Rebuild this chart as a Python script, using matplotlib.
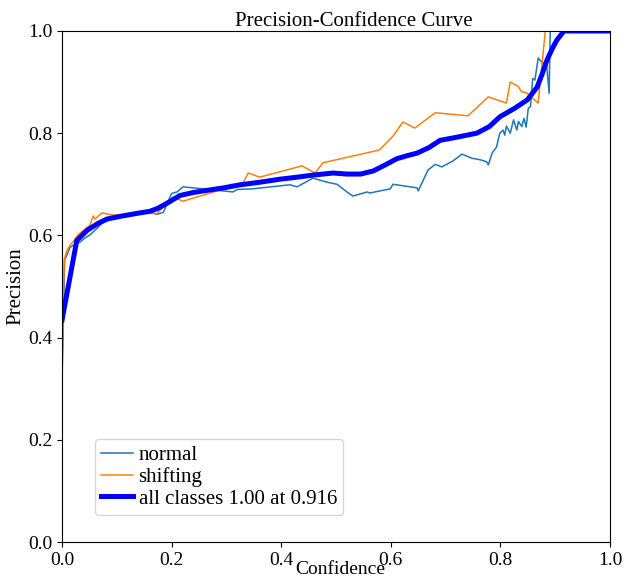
import matplotlib
matplotlib.use('Agg')
import matplotlib.pyplot as plt

plt.rcParams['font.family'] = 'Liberation Serif'

# precision vs confidence
normal_x = [0, 0.005, 0.015, 0.033, 0.042, 0.051, 0.064, 0.073, 0.09, 0.12, 0.15, 0.165,
            0.172, 0.185, 0.2, 0.21, 0.221, 0.276, 0.312, 0.32, 0.347, 0.416, 0.429, 0.458,
            0.484, 0.502, 0.520, 0.531, 0.557, 0.562, 0.599, 0.604, 0.648, 0.650, 0.668,
            0.681, 0.693, 0.714, 0.730, 0.748, 0.763, 0.775, 0.778, 0.785, 0.793, 0.799,
            0.805, 0.808, 0.811, 0.818, 0.824, 0.830, 0.833, 0.839, 0.843, 0.847, 0.851,
            0.855, 0.859, 0.863, 0.869, 0.872, 0.878, 0.884, 0.889, 0.891, 1.0]
normal_y = [0.311, 0.552, 0.577, 0.587, 0.595, 0.601, 0.614, 0.624, 0.632, 0.638, 0.648, 0.645,
            0.641, 0.645, 0.682, 0.685, 0.695, 0.689, 0.685, 0.690, 0.691, 0.699, 0.695, 0.712,
            0.704, 0.700, 0.685, 0.677, 0.685, 0.683, 0.691, 0.700, 0.693, 0.687, 0.728,
            0.739, 0.734, 0.746, 0.759, 0.751, 0.748, 0.744, 0.738, 0.761, 0.773, 0.800,
            0.806, 0.796, 0.814, 0.800, 0.826, 0.806, 0.823, 0.813, 0.829, 0.812, 0.849,
            0.852, 0.907, 0.904, 0.947, 0.943, 0.937, 0.940, 0.878, 1.0, 1.0]

shifting_x = [0, 0.004, 0.009, 0.015, 0.020, 0.029, 0.051, 0.057, 0.060, 0.073, 0.091, 0.12,
              0.15, 0.172, 0.18, 0.203, 0.221, 0.330, 0.340, 0.361, 0.438, 0.462, 0.476,
              0.579, 0.604, 0.622, 0.644, 0.681, 0.741, 0.778, 0.811, 0.818, 0.832, 0.839,
              0.848, 0.869, 0.882, 1.0]
shifting_y = [0.337, 0.552, 0.571, 0.581, 0.587, 0.601, 0.620, 0.638, 0.632, 0.644, 0.640, 0.640,
              0.645, 0.642, 0.650, 0.675, 0.667, 0.702, 0.722, 0.714, 0.736, 0.722, 0.742,
              0.767, 0.794, 0.822, 0.810, 0.840, 0.834, 0.871, 0.859, 0.900, 0.892, 0.881,
              0.879, 0.859, 1.0, 1.0]

all_x = [0, 0.027, 0.046, 0.065, 0.082, 0.11, 0.142, 0.16, 0.175, 0.195, 0.215, 0.24, 0.264,
         0.295, 0.325, 0.361, 0.398, 0.43, 0.458, 0.495, 0.52, 0.545, 0.568, 0.59, 0.611,
         0.63, 0.648, 0.67, 0.690, 0.72, 0.757, 0.78, 0.799, 0.825, 0.849, 0.867, 0.876,
         0.885, 0.895, 0.903, 0.916, 1.0]
all_y = [0.434, 0.59, 0.61, 0.623, 0.632, 0.638, 0.644, 0.647, 0.653, 0.665, 0.678, 0.684, 0.688,
         0.693, 0.699, 0.704, 0.710, 0.714, 0.718, 0.722, 0.720, 0.720, 0.726, 0.738, 0.750,
         0.756, 0.761, 0.772, 0.786, 0.792, 0.800, 0.813, 0.832, 0.848, 0.865, 0.890, 0.915,
         0.943, 0.966, 0.982, 1.0, 1.0]

fig = plt.figure(figsize=(6.3, 5.79), dpi=100)
ax = fig.add_axes([0.0984, 0.0639, 0.8698, 0.8826])

ax.plot(normal_x, normal_y, color='#1f77b4', lw=1.1, label='normal')
ax.plot(shifting_x, shifting_y, color='#ff7f0e', lw=1.1, label='shifting')
ax.plot(all_x, all_y, color='blue', lw=3.6, label='all classes 1.00 at 0.916')

ax.set_xlim(0, 1)
ax.set_ylim(0, 1)
ax.tick_params(labelsize=14)
ax.set_title('Precision-Confidence Curve', fontsize=15, pad=3, x=0.533)
ax.set_xlabel('Confidence', fontsize=14, labelpad=-5.5, x=0.508)
ax.set_ylabel('Precision', fontsize=15, labelpad=2)
ax.legend(loc='lower left', bbox_to_anchor=(0.06, 0.053), borderaxespad=0, fontsize=15,
          handlelength=1.55, handletextpad=0.25, borderpad=0.3, labelspacing=0.1)

plt.savefig('out.png', dpi=100)
